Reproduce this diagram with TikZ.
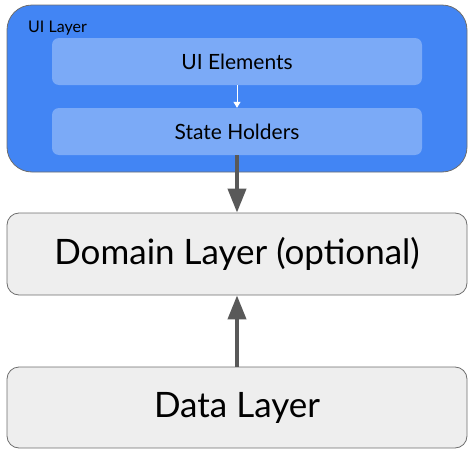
\documentclass[tikz,border=0pt]{standalone}
\usepackage{fontspec}
\setmainfont{Lato}
\usetikzlibrary{arrows.meta}
\definecolor{uiblue}{HTML}{4285F4}
\definecolor{uilight}{HTML}{7BAAF7}
\definecolor{boxgray}{HTML}{EEEEEE}
\definecolor{edgegray}{HTML}{6E6E6E}
\definecolor{arrowgray}{HTML}{595959}
\tikzset{
  layerbox/.style={draw=edgegray, line width=0.8pt, rounded corners=12pt, fill=boxgray, inner sep=0pt},
  innerbox/.style={fill=uilight, rounded corners=7pt, inner sep=0pt, minimum width=370pt, minimum height=47pt},
  bigarrow/.style={draw=arrowgray, line width=4pt, -{Triangle[length=24pt, width=18pt]}},
  smallarrow/.style={draw=white, line width=1pt, -{Triangle[length=6pt, width=7pt]}}
}
\begin{document}
\begin{tikzpicture}[x=1pt,y=-1pt]
\useasboundingbox (0,0) rectangle (475,458);
\filldraw[draw=edgegray, line width=0.8pt, fill=uiblue, rounded corners=25pt] (7,5) rectangle (467,172);
\node[anchor=base west, inner sep=0pt, font=\fontsize{16}{18}\selectfont] (uilabel) at (28,32) {UI Layer};
\node[innerbox, font=\fontsize{21}{24}\selectfont] (uiel) at (237,61.5) {UI Elements};
\node[innerbox, font=\fontsize{21}{24}\selectfont] (state) at (237,131.5) {State Holders};
\node[layerbox, minimum width=460pt, minimum height=82pt, font=\fontsize{35}{40}\selectfont] (domain) at (237,254) {Domain Layer (optional)};
\node[layerbox, minimum width=460pt, minimum height=81pt, font=\fontsize{35}{40}\selectfont] (data) at (237,407.5) {Data Layer};
\draw[smallarrow] (uiel.south) -- (state.north);
\draw[bigarrow] (state.south) -- (domain.north);
\draw[bigarrow] (data.north) -- (domain.south);
\end{tikzpicture}
\end{document}
